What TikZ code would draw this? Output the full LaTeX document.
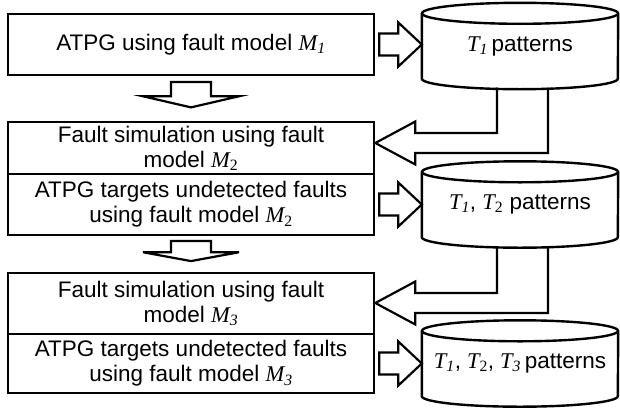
\documentclass[tikz,border=0pt]{standalone}
\usepackage{fontspec}
\setmainfont{Liberation Sans}
\newfontfamily\tnr{Liberation Serif}
\usetikzlibrary{calc}
\newcommand\mvar[2]{{\tnr\itshape #1\textsubscript{#2}}}
\begin{document}
\begin{tikzpicture}[x=1pt, y=-1pt,
  box/.style={draw, line width=2.6pt, minimum width=366, inner sep=0, align=center,
    font=\fontsize{22.5}{25}\selectfont},
  cyltext/.style={minimum width=196, minimum height=65, inner sep=0,
    font=\fontsize{22.5}{25}\selectfont},
  cyl/.style={line width=2.4pt},
  blk/.style={draw, fill=white, line width=2.2pt, line join=miter}]
\useasboundingbox (0,0) rectangle (620,407);

% flow boxes
\node[box, minimum height=61] (b1) at (191,44.5) {ATPG using fault model \mvar{M}{1}};
\node[box, minimum height=52] (b2) at (191,148) {Fault simulation using fault\\model \mvar{M}{\upshape 2}};
\node[box, minimum height=61] (b3) at (191,204.5) {ATPG targets undetected faults\\using fault model \mvar{M}{\upshape 2}};
\node[box, minimum height=61] (b4) at (191,303.5) {Fault simulation using fault\\model \mvar{M}{3}};
\node[box, minimum height=59] (b5) at (191,363.5) {ATPG targets undetected faults\\using fault model \mvar{M}{3}};

% pattern stores
\node[cyltext] (c1) at (520,46) {\mvar{T}{1}\,patterns};
\node[cyltext] (c2) at (520,204.5) {\mvar{T}{1}, \mvar{T}{\upshape 2} patterns};
\node[cyltext] (c3) at (520,363.5) {\mvar{T}{1},\hspace{6pt}\mvar{T}{\upshape 2},\hspace{6pt}\mvar{T}{3}\,patterns};
\foreach \c in {c1,c2,c3}
{
    \draw[cyl] (\c.north) ellipse [x radius=98, y radius=10.5];
    \draw[cyl] (\c.north west) -- (\c.south west)
        arc [start angle=180, end angle=0, x radius=98, y radius=10.5] -- (\c.north east);
}

% block arrows to the stores
\foreach \a/\b in {b1/c1, b3/c2, b5/c3}
{
    \draw[blk] ($(\a.east)+(4,-11)$) -- ++(19,0) -- ++(0,-11) -- (\b.west |- \a.east)
        -- ($(\a.east)+(23,22)$) -- ++(0,-11) -- ++(-19,0) -- cycle;
}

% block arrows down
\foreach \a/\b in {b1/b2, b3/b4}
{
    \draw[blk] ($(\a.south)!.13!(\b.north)+(-20,0)$) -- ($(\a.south)!.45!(\b.north)+(-20,0)$)
        -- ++(-28,0) -- ($(\a.south)!.7!(\b.north)$) -- ($(\a.south)!.45!(\b.north)+(48,0)$)
        -- ++(-28,0) -- ($(\a.south)!.13!(\b.north)+(20,0)$) -- cycle;
}

% patterns fed back
\foreach \c/\b/\o in {c1/b2/-5, c2/b4/-0.5}
{
    \draw[blk, fill=none] ($(\c.south)+(-23,9)$) |- ($(\b.east)+(40,\o-10)$) -- ++(0,-11.5)
        -- ($(\b.east)+(0,\o)$) -- ($(\b.east)+(40,\o+21.5)$) -- ++(0,-11.5) -| ($(\c.south)+(28,9)$);
}
\end{tikzpicture}
\end{document}
